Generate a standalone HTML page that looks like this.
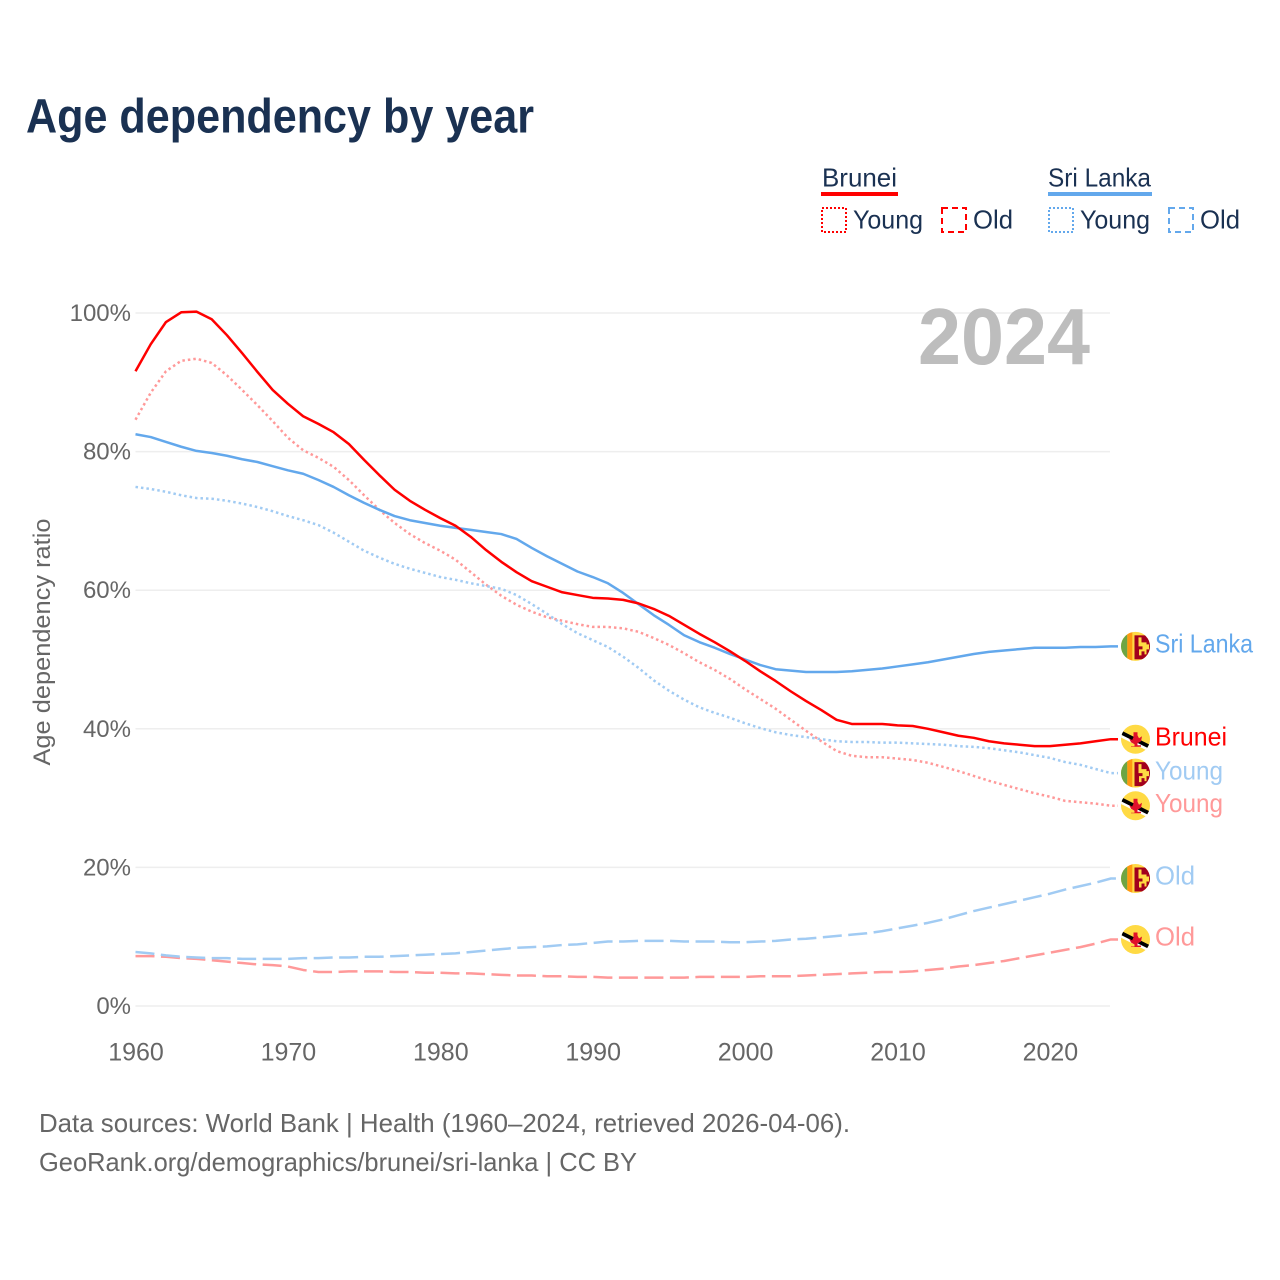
<!DOCTYPE html>
<html lang="en">
<head>
<meta charset="utf-8">
<title>Age dependency by year</title>
<style>
html,body{margin:0;padding:0;background:#fff;}
svg{display:block;}
text{font-family:"Liberation Sans","DejaVu Sans",sans-serif;}
</style>
</head>
<body>
<svg id="chart" xmlns="http://www.w3.org/2000/svg" width="1280" height="1280" viewBox="0 0 1280 1280">
  <defs>
    <clipPath id="flag-clip"><circle cx="0" cy="0" r="14.5"/></clipPath>
    <g id="flag-srilanka" clip-path="url(#flag-clip)">
      <rect x="-15" y="-15" width="30" height="30" fill="#ffda44"/>
      <rect x="-14.5" y="-15" width="6.3" height="30" fill="#6da544"/>
      <rect x="-8.2" y="-15" width="5" height="30" fill="#ff9811"/>
      <rect x="-1" y="-11" width="16" height="24" fill="#a2001d"/>
      <path d="M3-9h3v5h5v2h2.500v5H11v5H9V5H6v4H3.500V3h3.500v-3H3z" fill="#ffda44"/>
    </g>
    <g id="flag-brunei" clip-path="url(#flag-clip)">
      <rect x="-15" y="-15" width="30" height="30" fill="#ffda44"/>
      <path d="M-16-4.400L16 11.600" stroke="#fff" stroke-width="3.400" fill="none"/>
      <path d="M-16-7.400L16 8.600" stroke="#000" stroke-width="3.800" fill="none"/>
      <path d="M-6.500-1l3 2 1.500-3V-7h4v3l1.500 3 3-2-1 5-3.500 2v2h3.500v1.500h-10V7h3.500V5l-3.500-2z" fill="#e0102a"/>
    </g>
  </defs>

  <text x="26" y="132.500" font-size="48" font-weight="700" fill="#1a3152" textLength="508" lengthAdjust="spacingAndGlyphs">Age dependency by year</text>

  <g>
    <text x="822" y="186.500" font-size="26" fill="#1a3152" textLength="75" lengthAdjust="spacingAndGlyphs">Brunei</text>
    <rect x="821" y="192" width="77" height="4" fill="#ff0000"/>
    <rect x="822" y="208" width="24" height="24" fill="none" stroke="#ff0000" stroke-width="2" stroke-dasharray="2 2"/>
    <text x="853" y="228.500" font-size="26" fill="#1a3152" textLength="70" lengthAdjust="spacingAndGlyphs">Young</text>
    <rect x="942" y="208" width="24" height="24" fill="none" stroke="#ff0000" stroke-width="2" stroke-dasharray="6 4"/>
    <text x="973" y="228.500" font-size="26" fill="#1a3152" textLength="40" lengthAdjust="spacingAndGlyphs">Old</text>

    <text x="1048" y="186.500" font-size="26" fill="#1a3152" textLength="103" lengthAdjust="spacingAndGlyphs">Sri Lanka</text>
    <rect x="1048" y="192" width="104" height="4" fill="#63a8ec"/>
    <rect x="1049" y="208" width="24" height="24" fill="none" stroke="#63a8ec" stroke-width="2" stroke-dasharray="2 2"/>
    <text x="1080" y="228.500" font-size="26" fill="#1a3152" textLength="70" lengthAdjust="spacingAndGlyphs">Young</text>
    <rect x="1169" y="208" width="24" height="24" fill="none" stroke="#63a8ec" stroke-width="2" stroke-dasharray="6 4"/>
    <text x="1200" y="228.500" font-size="26" fill="#1a3152" textLength="40" lengthAdjust="spacingAndGlyphs">Old</text>
  </g>

  <g id="grid"></g>
  <g id="y-ticks"></g>
  <g id="x-ticks"></g>

  <text x="1090" y="364" text-anchor="end" font-size="80" font-weight="700" fill="#bdbdbd" textLength="172" lengthAdjust="spacingAndGlyphs">2024</text>

  <text transform="translate(50,642) rotate(-90)" text-anchor="middle" font-size="24" fill="#666666" textLength="247" lengthAdjust="spacingAndGlyphs">Age dependency ratio</text>

  <g id="series"></g>
  <g id="end-labels"></g>

  <text x="39" y="1132" font-size="26" fill="#666666" textLength="811" lengthAdjust="spacingAndGlyphs">Data sources: World Bank | Health (1960–2024, retrieved 2026-04-06).</text>
  <text x="39" y="1171" font-size="26" fill="#666666" textLength="598" lengthAdjust="spacingAndGlyphs">GeoRank.org/demographics/brunei/sri-lanka | CC BY</text>
</svg>
<script>
const startYear = 1960;
const xTickLabels = [1960, 1970, 1980, 1990, 2000, 2010, 2020];
const yTickLabels = [0, 20, 40, 60, 80, 100];

const bruneiTotal = [91.6,95.5,98.7,100.1,100.2,99.1,96.8,94.2,91.5,88.9,86.9,85.1,84,82.8,81.1,78.8,76.6,74.5,72.9,71.6,70.4,69.3,67.7,65.8,64.1,62.6,61.3,60.5,59.7,59.3,58.9,58.8,58.6,58.1,57.3,56.3,55,53.7,52.5,51.2,49.8,48.3,46.9,45.4,44,42.7,41.3,40.7,40.7,40.7,40.5,40.4,40,39.5,39,38.7,38.2,37.9,37.7,37.5,37.5,37.7,37.9,38.2,38.5];
const bruneiYoung = [84.6,88.5,91.6,93.1,93.4,92.8,91,88.9,86.7,84.4,82,80.2,79.1,77.8,75.9,73.7,71.6,69.7,68.1,66.8,65.7,64.4,62.6,60.8,59.2,57.9,56.9,56.1,55.6,55.1,54.7,54.7,54.5,54,53.1,52.1,50.9,49.6,48.5,47.2,45.7,44.3,42.9,41.3,39.7,38.2,36.8,36.1,35.9,35.9,35.7,35.5,35.1,34.5,33.9,33.2,32.5,31.9,31.3,30.7,30.2,29.6,29.4,29.2,28.9];
const bruneiOld = [7.2,7.2,7.1,6.9,6.8,6.6,6.4,6.2,6,5.9,5.7,5.2,4.9,4.9,5,5,5,4.9,4.9,4.8,4.8,4.7,4.7,4.6,4.5,4.4,4.4,4.3,4.3,4.2,4.2,4.1,4.1,4.1,4.1,4.1,4.1,4.2,4.2,4.2,4.2,4.3,4.3,4.3,4.4,4.5,4.6,4.7,4.8,4.9,4.9,5,5.2,5.4,5.7,5.9,6.2,6.5,6.9,7.3,7.7,8.1,8.5,9,9.6];
const sriLankaTotal = [82.5,82.1,81.4,80.7,80.1,79.8,79.4,78.9,78.5,77.9,77.3,76.8,75.9,74.9,73.7,72.6,71.6,70.7,70.1,69.7,69.3,69,68.7,68.4,68.1,67.4,66.1,64.9,63.8,62.7,61.9,61,59.6,58,56.4,55,53.5,52.5,51.7,50.8,50,49.2,48.6,48.4,48.2,48.2,48.2,48.3,48.5,48.7,49,49.3,49.6,50,50.4,50.8,51.1,51.3,51.5,51.7,51.7,51.7,51.8,51.8,51.9];
const sriLankaYoung = [74.9,74.6,74.2,73.7,73.3,73.2,72.9,72.5,72,71.4,70.7,70.1,69.4,68.3,67,65.7,64.7,63.8,63.1,62.5,61.9,61.5,61,60.6,60.2,59.3,58,56.6,55.1,53.8,52.8,51.8,50.4,48.8,47,45.5,44.2,43.1,42.3,41.6,40.8,40.1,39.5,39.1,38.8,38.5,38.2,38.1,38.1,38,38,37.9,37.8,37.7,37.5,37.4,37.2,36.9,36.6,36.2,35.8,35.2,34.8,34.2,33.6];
const sriLankaOld = [7.8,7.6,7.3,7.1,7,6.9,6.9,6.8,6.8,6.8,6.8,6.9,6.9,7,7,7.1,7.1,7.2,7.3,7.4,7.5,7.6,7.8,8,8.2,8.4,8.5,8.6,8.8,8.9,9.1,9.3,9.3,9.4,9.4,9.4,9.3,9.3,9.3,9.2,9.2,9.3,9.4,9.6,9.7,9.9,10.1,10.3,10.5,10.8,11.2,11.6,12,12.5,13.1,13.7,14.2,14.7,15.2,15.7,16.2,16.8,17.3,17.8,18.4];

const NS = 'http://www.w3.org/2000/svg';
function xScale(year){ return 135.5 + (year - 1960) * 15.24; }
function yScale(value){ return 1006 - value * 6.93; }
function make(tag, attrs, parent, content){
  const el = document.createElementNS(NS, tag);
  for (const k in attrs) el.setAttribute(k, attrs[k]);
  if (content !== undefined) el.textContent = content;
  parent.appendChild(el);
  return el;
}

const gridGroup = document.getElementById('grid');
const yTickGroup = document.getElementById('y-ticks');
yTickLabels.forEach(function(v){
  const line = make('line', {x1:135.5, x2:1110, y1:yScale(v), y2:yScale(v), stroke:'#eeeeee', 'stroke-width':1.5}, gridGroup);
  
  
  const t = make('text', {x:131, y:yScale(v) + 8, 'text-anchor':'end', 'font-size':24, fill:'#666666'}, yTickGroup, v + '%');
  
  
});

const xTickGroup = document.getElementById('x-ticks');
xTickLabels.forEach(function(v){
  const t = make('text', {x:xScale(v) + 0.5, y:1060.5, 'text-anchor':'middle', 'font-size':25, fill:'#666666'}, xTickGroup, String(v));
  
  
});

const seriesGroup = document.getElementById('series');
const labelGroup = document.getElementById('end-labels');

function drawSeries(values, name, color, dash, flag, label, labelWidth){
  const pts = values.map(function(v, i){ return xScale(startYear + i).toFixed(2) + ',' + yScale(v).toFixed(2); });
  const lastY = yScale(values[values.length - 1]);
  const d = 'M' + pts.join('L') + 'L1118,' + lastY.toFixed(2);
  const path = make('path', {d:d, fill:'none', stroke:color, 'stroke-width':2.5, 'stroke-linejoin':'round', 'stroke-dasharray':dash}, seriesGroup);
  
  
  const use = make('use', {href:'#' + flag, transform:'translate(1135.5,' + lastY.toFixed(2) + ')'}, labelGroup);
  
  
  const t = make('text', {x:1155, y:(lastY + 6.2).toFixed(2), 'font-size':26, fill:color, textLength:labelWidth, lengthAdjust:'spacingAndGlyphs'}, labelGroup, label);
  
  
}

drawSeries(bruneiOld, 'brunei-old', '#ff9999', '19 6.5', 'flag-brunei', 'Old', 40);
drawSeries(sriLankaOld, 'sri-lanka-old', '#a1cbf3', '19 6.5', 'flag-srilanka', 'Old', 40);
drawSeries(bruneiYoung, 'brunei-young', '#ff9999', '2.5 3', 'flag-brunei', 'Young', 68);
drawSeries(sriLankaYoung, 'sri-lanka-young', '#a1cbf3', '2.5 3', 'flag-srilanka', 'Young', 68);
drawSeries(sriLankaTotal, 'sri-lanka-total', '#63a8ec', 'none', 'flag-srilanka', 'Sri Lanka', 98);
drawSeries(bruneiTotal, 'brunei-total', '#ff0000', 'none', 'flag-brunei', 'Brunei', 72);
</script>
</body>
</html>
